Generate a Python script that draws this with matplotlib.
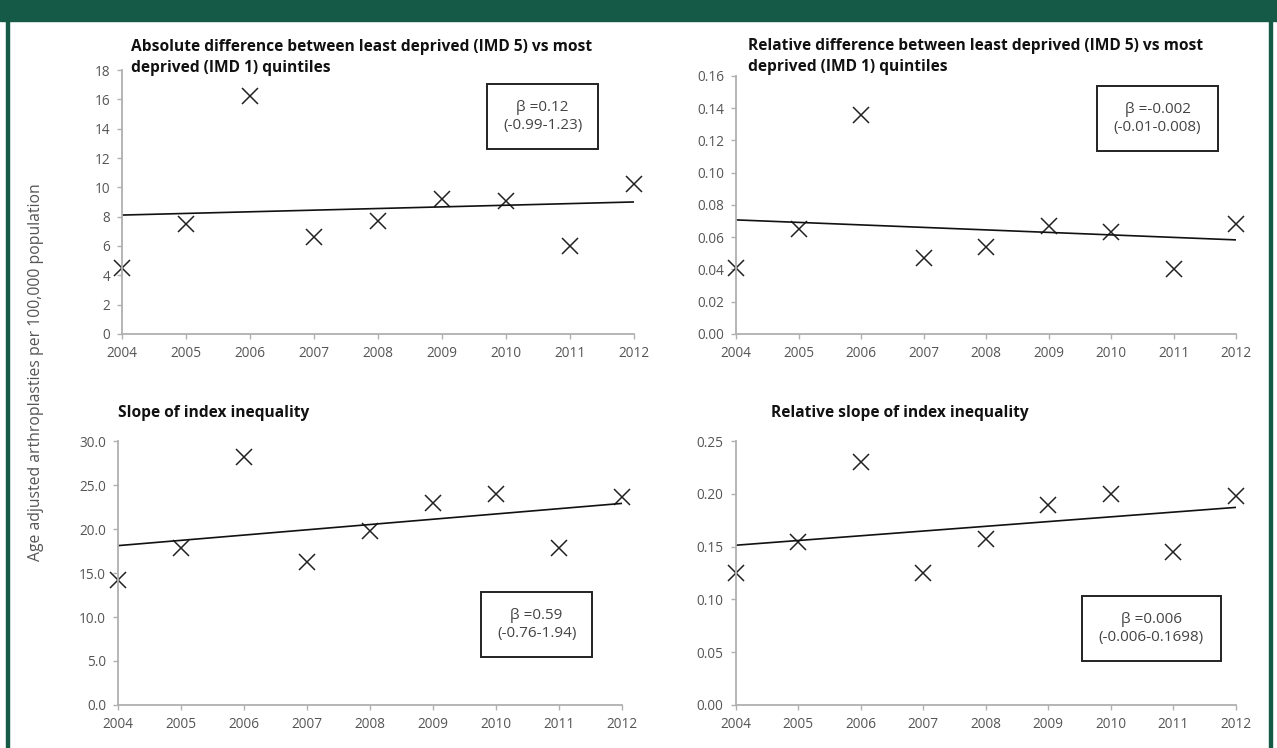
import numpy as np
import matplotlib.pyplot as plt
from matplotlib.patches import Rectangle

plt.rcParams['font.family'] = ['Open Sans', 'DejaVu Sans']

years = np.arange(2004, 2013)

# four inequality measures, one value per year
abs_diff = [4.5, 7.5, 16.2, 6.6, 7.7, 9.2, 9.1, 6.0, 10.2]
rel_diff = [0.041, 0.065, 0.136, 0.047, 0.054, 0.067, 0.063, 0.040, 0.068]
sii = [14.2, 17.8, 28.2, 16.2, 19.8, 23.0, 24.0, 17.8, 23.6]
rii = [0.125, 0.154, 0.230, 0.125, 0.157, 0.189, 0.200, 0.145, 0.198]

titles = ["Absolute difference between least deprived (IMD 5) vs most\ndeprived (IMD 1) quintiles",
          "Relative difference between least deprived (IMD 5) vs most\ndeprived (IMD 1) quintiles",
          "Slope of index inequality",
          "Relative slope of index inequality"]
betas = ["\u03b2 =0.12\n(-0.99-1.23)",
         "\u03b2 =-0.002\n(-0.01-0.008)",
         "\u03b2 =0.59\n(-0.76-1.94)",
         "\u03b2 =0.006\n(-0.006-0.1698)"]
yticks = [np.arange(0, 19, 2), np.arange(0, 0.161, 0.02),
          np.arange(0, 30.1, 5), np.arange(0, 0.251, 0.05)]
yfmt = ["{:.0f}", "{:.2f}", "{:.1f}", "{:.2f}"]
series = [abs_diff, rel_diff, sii, rii]

# layout (figure fractions / axes fractions)
ax_pos = [[0.0955, 0.5535, 0.4009, 0.3529],
          [0.5764, 0.5535, 0.3915, 0.3449],
          [0.0924, 0.0575, 0.3947, 0.3529],
          [0.5760, 0.0575, 0.3919, 0.3529]]
box_pos = [[0.713, 0.701, 0.930, 0.947],
           [0.722, 0.709, 0.964, 0.961],
           [0.720, 0.182, 0.941, 0.428],
           [0.692, 0.167, 0.970, 0.413]]
title_pos = [(0.018, 1.049), (0.024, 1.074), (0.0, 1.106), (0.071, 1.106)]

grey = '#555555'
spine = '#b0b0b0'

fig = plt.figure(figsize=(12.77, 7.48), dpi=100)

# dark green frame
fig.patches.append(Rectangle((0, 1 - 21 / 748), 1, 21 / 748, transform=fig.transFigure,
                             color='#145a47', zorder=0))
fig.patches.append(Rectangle((6 / 1277, 0), 2.5 / 1277, 1, transform=fig.transFigure,
                             color='#145a47', zorder=0))
fig.patches.append(Rectangle((1269 / 1277, 0), 2.5 / 1277, 1, transform=fig.transFigure,
                             color='#145a47', zorder=0))

for i in range(4):
    ax = fig.add_axes(ax_pos[i])
    y = np.array(series[i])
    ax.plot(years, y, 'x', color='#222222', markersize=11, markeredgewidth=1.1, clip_on=False)
    k, b = np.polyfit(years, y, 1)
    ax.plot(years, k * years + b, color='#111111', lw=1.2)
    ax.set_xlim(2004, 2012)
    ax.set_ylim(yticks[i][0], yticks[i][-1])
    ax.set_xticks(years)
    ax.set_yticks(yticks[i])
    ax.set_yticklabels([yfmt[i].format(v) for v in yticks[i]])
    for s in ['top', 'right']:
        ax.spines[s].set_visible(False)
    for s in ['left', 'bottom']:
        ax.spines[s].set_color(spine)
        ax.spines[s].set_linewidth(1.3)
    ax.tick_params(direction='out', length=3.5, width=1, color=spine, labelcolor=grey,
                   labelsize=9.8, pad=5)
    ax.text(title_pos[i][0], title_pos[i][1], titles[i], transform=ax.transAxes,
            fontsize=11.2, fontweight='bold', color='#111111', ha='left', va='center',
            linespacing=1.42)
    x0, y0, x1, y1 = box_pos[i]
    ax.add_patch(Rectangle((x0, y0), x1 - x0, y1 - y0, transform=ax.transAxes,
                           fill=False, edgecolor='#222222', lw=1.4, clip_on=False))
    ax.text((x0 + x1) / 2, (y0 + y1) / 2, betas[i], transform=ax.transAxes,
            fontsize=11, color='#444444', ha='center', va='center', linespacing=1.35)

fig.text(0.0285, 0.5027, "Age adjusted arthroplasties per 100,000 population",
         rotation=90, ha='center', va='center', fontsize=11.3, color=grey)

plt.savefig('out.png', dpi=100)
